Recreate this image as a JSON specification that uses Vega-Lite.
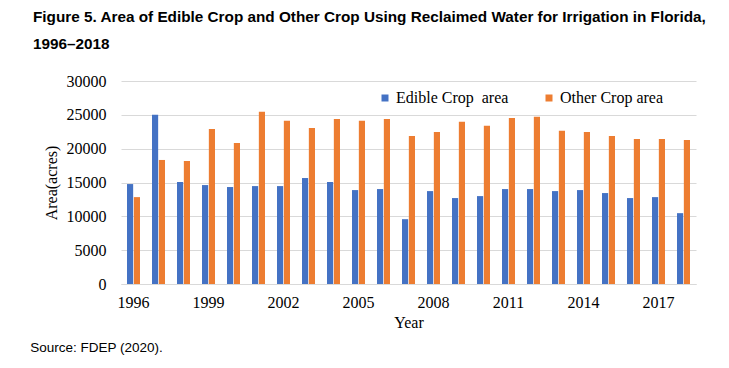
{
  "$schema": "https://vega.github.io/schema/vega-lite/v6.json",
  "background": "white",
  "padding": {"left": 30, "top": 10, "right": 5, "bottom": 8},
  "title": {
    "text": ["Figure 5. Area of Edible Crop and Other Crop Using Reclaimed Water for Irrigation in Florida,", "1996–2018"],
    "anchor": "start",
    "frame": "bounds",
    "font": "Liberation Sans",
    "fontSize": 15.3,
    "fontWeight": "bold",
    "color": "#000000",
    "lineHeight": 27,
    "offset": 20.5,
    "dx": 2.7
  },
  "data": {
    "values": [
      {"Year": 1996, "Type": "Edible Crop\u00a0 area", "Area": 14770},
      {"Year": 1996, "Type": "Other Crop area", "Area": 12840},
      {"Year": 1997, "Type": "Edible Crop\u00a0 area", "Area": 25000},
      {"Year": 1997, "Type": "Other Crop area", "Area": 18330},
      {"Year": 1998, "Type": "Edible Crop\u00a0 area", "Area": 15070},
      {"Year": 1998, "Type": "Other Crop area", "Area": 18180},
      {"Year": 1999, "Type": "Edible Crop\u00a0 area", "Area": 14620},
      {"Year": 1999, "Type": "Other Crop area", "Area": 22920},
      {"Year": 2000, "Type": "Edible Crop\u00a0 area", "Area": 14330},
      {"Year": 2000, "Type": "Other Crop area", "Area": 20850},
      {"Year": 2001, "Type": "Edible Crop\u00a0 area", "Area": 14470},
      {"Year": 2001, "Type": "Other Crop area", "Area": 25440},
      {"Year": 2002, "Type": "Edible Crop\u00a0 area", "Area": 14470},
      {"Year": 2002, "Type": "Other Crop area", "Area": 24110},
      {"Year": 2003, "Type": "Edible Crop\u00a0 area", "Area": 15660},
      {"Year": 2003, "Type": "Other Crop area", "Area": 23070},
      {"Year": 2004, "Type": "Edible Crop\u00a0 area", "Area": 15070},
      {"Year": 2004, "Type": "Other Crop area", "Area": 24400},
      {"Year": 2005, "Type": "Edible Crop\u00a0 area", "Area": 13880},
      {"Year": 2005, "Type": "Other Crop area", "Area": 24110},
      {"Year": 2006, "Type": "Edible Crop\u00a0 area", "Area": 14030},
      {"Year": 2006, "Type": "Other Crop area", "Area": 24400},
      {"Year": 2007, "Type": "Edible Crop\u00a0 area", "Area": 9580},
      {"Year": 2007, "Type": "Other Crop area", "Area": 21880},
      {"Year": 2008, "Type": "Edible Crop\u00a0 area", "Area": 13730},
      {"Year": 2008, "Type": "Other Crop area", "Area": 22480},
      {"Year": 2009, "Type": "Edible Crop\u00a0 area", "Area": 12700},
      {"Year": 2009, "Type": "Other Crop area", "Area": 23960},
      {"Year": 2010, "Type": "Edible Crop\u00a0 area", "Area": 12990},
      {"Year": 2010, "Type": "Other Crop area", "Area": 23370},
      {"Year": 2011, "Type": "Edible Crop\u00a0 area", "Area": 14030},
      {"Year": 2011, "Type": "Other Crop area", "Area": 24550},
      {"Year": 2012, "Type": "Edible Crop\u00a0 area", "Area": 14030},
      {"Year": 2012, "Type": "Other Crop area", "Area": 24700},
      {"Year": 2013, "Type": "Edible Crop\u00a0 area", "Area": 13730},
      {"Year": 2013, "Type": "Other Crop area", "Area": 22630},
      {"Year": 2014, "Type": "Edible Crop\u00a0 area", "Area": 13880},
      {"Year": 2014, "Type": "Other Crop area", "Area": 22480},
      {"Year": 2015, "Type": "Edible Crop\u00a0 area", "Area": 13440},
      {"Year": 2015, "Type": "Other Crop area", "Area": 21880},
      {"Year": 2016, "Type": "Edible Crop\u00a0 area", "Area": 12700},
      {"Year": 2016, "Type": "Other Crop area", "Area": 21440},
      {"Year": 2017, "Type": "Edible Crop\u00a0 area", "Area": 12840},
      {"Year": 2017, "Type": "Other Crop area", "Area": 21440},
      {"Year": 2018, "Type": "Edible Crop\u00a0 area", "Area": 10470},
      {"Year": 2018, "Type": "Other Crop area", "Area": 21290}
    ]
  },
  "vconcat": [
    {
      "width": 575,
      "height": 203,
      "title": {
        "text": "Source: FDEP (2020).",
        "orient": "bottom",
        "anchor": "start",
        "frame": "bounds",
        "font": "Liberation Sans",
        "fontSize": 13.5,
        "fontWeight": "normal",
        "color": "#000000",
        "offset": 11,
        "dx": -12.7
      },
      "mark": {"type": "bar"},
      "encoding": {
        "x": {
          "field": "Year",
          "type": "ordinal",
          "scale": {"paddingInner": 0.48, "paddingOuter": 0.24},
          "axis": {
            "values": [1996, 1999, 2002, 2005, 2008, 2011, 2014, 2017],
            "labelAngle": 0,
            "ticks": false,
            "domainColor": "#D9D9D9",
            "labelFont": "Liberation Serif",
            "labelFontSize": 16,
            "labelColor": "#000000",
            "labelPadding": 10,
            "title": "Year",
            "titleFont": "Liberation Serif",
            "titleFontSize": 16,
            "titleFontWeight": "normal",
            "titleColor": "#000000",
            "titlePadding": 4
          }
        },
        "xOffset": {
          "field": "Type",
          "type": "nominal",
          "scale": {"paddingInner": 0.1}
        },
        "y": {
          "field": "Area",
          "type": "quantitative",
          "scale": {"domain": [0, 30000]},
          "axis": {
            "values": [0, 5000, 10000, 15000, 20000, 25000, 30000],
            "format": "d",
            "domain": false,
            "ticks": false,
            "gridColor": "#D9D9D9",
            "labelFont": "Liberation Serif",
            "labelFontSize": 16,
            "labelColor": "#000000",
            "labelPadding": 15,
            "title": "Area(acres)",
            "titleFont": "Liberation Serif",
            "titleFontSize": 16,
            "titleFontWeight": "normal",
            "titleColor": "#000000",
            "titlePadding": 7
          }
        },
        "color": {
          "field": "Type",
          "type": "nominal",
          "scale": {"domain": ["Edible Crop\u00a0 area", "Other Crop area"], "range": ["#4472C4", "#ED7D31"]},
          "legend": {
            "title": null,
            "orient": "none",
            "direction": "horizontal",
            "legendX": 256,
            "legendY": 9,
            "symbolType": "square",
            "symbolSize": 49,
            "symbolStrokeWidth": 0,
            "symbolOpacity": 1,
            "labelFont": "Liberation Serif",
            "labelFontSize": 16,
            "labelColor": "#000000",
            "labelOffset": 3,
            "columnPadding": 32
          }
        }
      }
    }
  ],
  "config": {
    "view": {"stroke": null},
    "axis": {"gridWidth": 1}
  }
}
